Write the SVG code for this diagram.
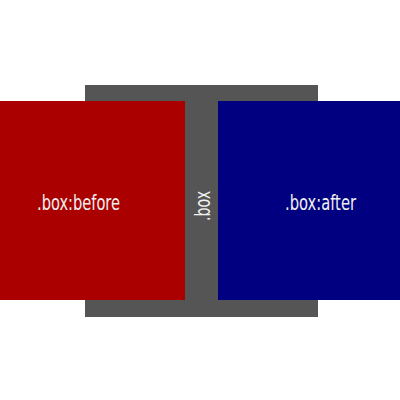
<svg xmlns="http://www.w3.org/2000/svg" width="400" height="400" viewBox="0 0 400 400">
<style>
.lbl{font-family:"DejaVu Sans Condensed","DejaVu Sans",sans-serif;font-size:21px;fill:#f0f0f0}
</style>
<rect width="400" height="400" fill="#ffffff"/>
<g id="box"><rect x="85" y="85" width="233" height="232" fill="#555555"/>
<text class="lbl" transform="translate(210,221) rotate(-90)" textLength="30" lengthAdjust="spacingAndGlyphs">.box</text></g>
<g id="before"><rect x="0" y="101" width="185" height="199" fill="#aa0000"/>
<text class="lbl" x="37" y="210" textLength="83" lengthAdjust="spacingAndGlyphs">.box:before</text></g>
<g id="after"><rect x="218" y="101" width="182" height="199" fill="#000080"/>
<text class="lbl" x="285" y="210" textLength="71" lengthAdjust="spacingAndGlyphs">.box:after</text></g>
<g id="connectors"/>
</svg>
